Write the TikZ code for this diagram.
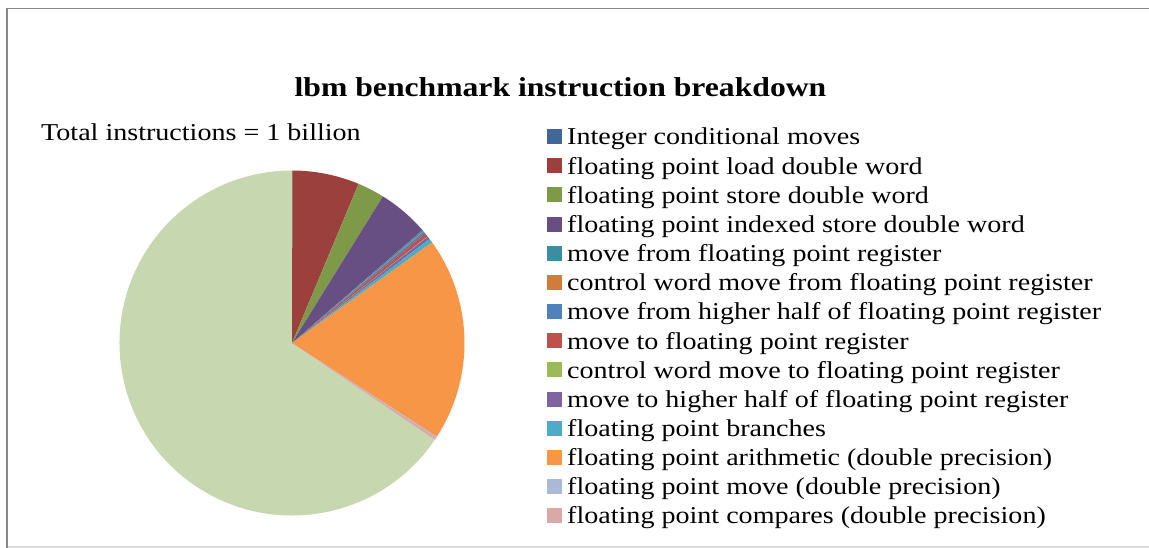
\documentclass[tikz,border=0pt]{standalone}
\usepackage{fontspec}
\setmainfont{Liberation Serif}[FakeStretch=1.16]
\definecolor{cIntCond}{HTML}{3F6797}
\definecolor{cLoad}{HTML}{9C403D}
\definecolor{cStore}{HTML}{7E9A48}
\definecolor{cIdx}{HTML}{674F84}
\definecolor{cMvFrom}{HTML}{3C8DA3}
\definecolor{cCwFrom}{HTML}{D07D3A}
\definecolor{cMvFromHi}{HTML}{4F81BD}
\definecolor{cMvTo}{HTML}{C0504D}
\definecolor{cCwTo}{HTML}{9BBB59}
\definecolor{cMvToHi}{HTML}{8064A2}
\definecolor{cBranch}{HTML}{4BACC6}
\definecolor{cArith}{HTML}{F79646}
\definecolor{cMove}{HTML}{A9B9D8}
\definecolor{cCmp}{HTML}{DAA8A7}
\definecolor{cRest}{HTML}{C7D7AF}
\definecolor{frameGray}{HTML}{868686}
\definecolor{frameLight}{HTML}{D9D9D9}
% slice: {colour}{start}{end}, angles in degrees clockwise from 12 o'clock
\newcommand{\pieslice}[3]{%
  \fill[#1] (pc) -- ++({#2-90}:\pieR) arc[start angle={#2-90}, end angle={#3-90}, radius=\pieR] -- cycle;}
\newcommand{\pieR}{172.5}
\tikzset{
  legkey/.style={minimum size=15pt, inner sep=0pt, draw=none},
  legtext/.style={anchor=base west, inner sep=0pt, font=\fontsize{24.2}{28}\selectfont},
}
\begin{document}
\begin{tikzpicture}[x=1pt,y=-1pt]
\useasboundingbox (0,0) rectangle (1149,548);
\fill[white] (0,0) rectangle (1149,548);
% chart frame
\draw[frameLight, line width=1.5pt] (8,547) -- (1149,547);
\draw[frameGray, line width=1.8pt] (1149,8.5) -- (7,8.5) -- (7,548);
% title and note
\node[anchor=base, inner sep=0pt, font=\fontsize{27.3}{31}\selectfont\bfseries] (title) at (560.5,97) {lbm benchmark instruction breakdown};
\node[anchor=base west, inner sep=0pt, font=\fontsize{24.2}{28}\selectfont] (total) at (41,141) {Total instructions = 1 billion};
% pie
\coordinate (pc) at (292,343);
\pieslice{cRest}{124.1}{360}
\pieslice{cIntCond}{0}{0.15}
\pieslice{cLoad}{0.15}{22.7}
\pieslice{cStore}{22.7}{31.8}
\pieslice{cIdx}{31.8}{49.1}
\pieslice{cMvFrom}{49.1}{49.6}
\pieslice{cCwFrom}{49.6}{49.8}
\pieslice{cMvFromHi}{49.8}{50.6}
\pieslice{cMvTo}{50.6}{51.8}
\pieslice{cCwTo}{51.8}{51.95}
\pieslice{cMvToHi}{51.95}{52.9}
\pieslice{cBranch}{52.9}{54.3}
\pieslice{cArith}{54.3}{122.9}
\pieslice{cMove}{122.9}{123.15}
\pieslice{cCmp}{123.15}{124.1}
% legend
\foreach \i/\col/\txt in {
  0/cIntCond/Integer conditional moves,
  1/cLoad/floating point load double word,
  2/cStore/floating point store double word,
  3/cIdx/floating point indexed store double word,
  4/cMvFrom/move from floating point register,
  5/cCwFrom/control word move from floating point register,
  6/cMvFromHi/move from higher half of floating point register,
  7/cMvTo/move to floating point register,
  8/cCwTo/control word move to floating point register,
  9/cMvToHi/move to higher half of floating point register,
  10/cBranch/floating point branches,
  11/cArith/floating point arithmetic (double precision),
  12/cMove/floating point move (double precision),
  13/cCmp/floating point compares (double precision)}{
  \node[legkey, fill=\col] (key\i) at (554, {136.7+29.15*\i}) {};
  \node[legtext] (lab\i) at (567, {145+29.15*\i}) {\txt};
}
\end{tikzpicture}
\end{document}
